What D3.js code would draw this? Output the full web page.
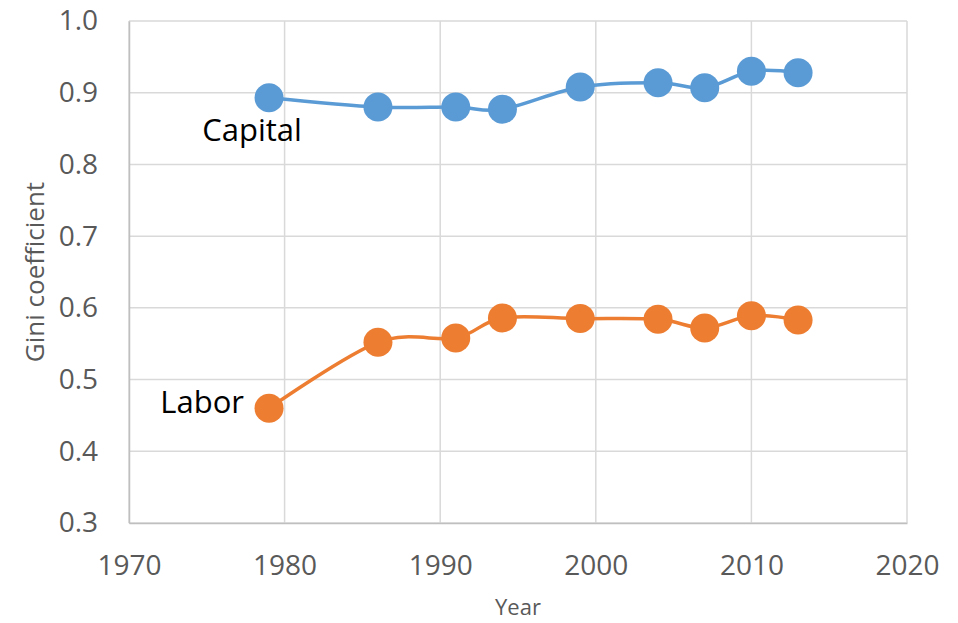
<!DOCTYPE html>
<html>
<head>
<meta charset="utf-8">
<script src="https://cdn.jsdelivr.net/npm/d3@7"></script>
<style>
  body { margin: 0; background: #fff; }
  text { font-family: "Open Sans", sans-serif; }
</style>
</head>
<body>
<div id="chart"></div>
<script>
// Data
const years = [1979, 1986, 1991, 1994, 1999, 2004, 2007, 2010, 2013];
const capital = [0.893, 0.880, 0.880, 0.877, 0.908, 0.914, 0.907, 0.930, 0.928];
const labor = [0.460, 0.552, 0.558, 0.586, 0.585, 0.584, 0.572, 0.589, 0.583];
const xTicks = [1970, 1980, 1990, 2000, 2010, 2020];
const yTicks = [0.3, 0.4, 0.5, 0.6, 0.7, 0.8, 0.9, 1.0];

const W = 958, H = 623;
const margin = {top: 21, right: 51, bottom: 100, left: 129};
const width = W - margin.left - margin.right;
const height = H - margin.top - margin.bottom;

const svg = d3.select("#chart").append("svg")
    .attr("width", W)
    .attr("height", H)
  .append("g")
    .attr("transform", `translate(${margin.left},${margin.top})`);

const x = d3.scaleLinear().domain([1970, 2020]).range([0, width]);
const y = d3.scaleLinear().domain([0.3, 1.0]).range([height, 0]);

// Gridlines
svg.append("g")
  .selectAll("line")
  .data(xTicks)
  .enter().append("line")
    .attr("x1", d => x(d)).attr("x2", d => x(d))
    .attr("y1", 0).attr("y2", height)
    .attr("stroke", "#d9d9d9").attr("stroke-width", 1.5);

svg.append("g")
  .selectAll("line")
  .data(yTicks)
  .enter().append("line")
    .attr("x1", 0).attr("x2", width)
    .attr("y1", d => y(d)).attr("y2", d => y(d))
    .attr("stroke", "#d9d9d9").attr("stroke-width", 1.5);

// Axes
const xAxis = svg.append("g")
  .attr("transform", `translate(0,${height})`)
  .call(d3.axisBottom(x).tickValues(xTicks).tickFormat(d3.format("d")).tickSize(0).tickPadding(32));
xAxis.select(".domain").attr("stroke", "#bfbfbf").attr("stroke-width", 1.5);
xAxis.selectAll("text")
  .style("font-size", "28px")
  .style("font-family", "'Open Sans', sans-serif")
  .attr("fill", "#595959");

const yAxis = svg.append("g")
  .call(d3.axisLeft(y).tickValues(yTicks).tickFormat(d3.format(".1f")).tickSize(0).tickPadding(31));
yAxis.select(".domain").attr("stroke", "#bfbfbf").attr("stroke-width", 1.5);
yAxis.selectAll("text")
  .style("font-size", "28px")
  .style("font-family", "'Open Sans', sans-serif")
  .attr("fill", "#595959");

// Axis titles
svg.append("text")
  .attr("x", x(1995))
  .attr("y", height + 92)
  .attr("text-anchor", "middle")
  .style("font-size", "22px")
  .attr("fill", "#595959")
  .text("Year");

svg.append("text")
  .attr("transform", "rotate(-90)")
  .attr("x", -(272 - margin.top))
  .attr("y", -margin.left + 44)
  .attr("text-anchor", "middle")
  .style("font-size", "26px")
  .attr("fill", "#595959")
  .text("Gini coefficient");

// Series
const series = [
  {name: "Capital", values: capital, color: "#5b9bd5"},
  {name: "Labor", values: labor, color: "#ed7d31"}
];

const line = d3.line()
  .x(d => x(d.year))
  .y(d => y(d.value))
  .curve(d3.curveCardinal.tension(0));

series.forEach(s => {
  const pts = years.map((yr, i) => ({year: yr, value: s.values[i]}));
  svg.append("path")
    .datum(pts)
    .attr("fill", "none")
    .attr("stroke", s.color)
    .attr("stroke-width", 3.5)
    .attr("d", line);
  svg.selectAll(null)
    .data(pts)
    .enter().append("circle")
      .attr("cx", d => x(d.year))
      .attr("cy", d => y(d.value))
      .attr("r", 14.5)
      .attr("fill", s.color);
});

// Series labels
svg.append("text")
  .attr("x", x(years[0]) - 17)
  .attr("y", y(capital[0]) + 43)
  .attr("text-anchor", "middle")
  .style("font-size", "31px")
  .attr("fill", "#000")
  .text("Capital");

svg.append("text")
  .attr("x", x(years[0]) - 25)
  .attr("y", y(labor[0]))
  .attr("dy", "0.16em")
  .attr("text-anchor", "end")
  .style("font-size", "31px")
  .attr("fill", "#000")
  .text("Labor");
</script>
</body>
</html>
